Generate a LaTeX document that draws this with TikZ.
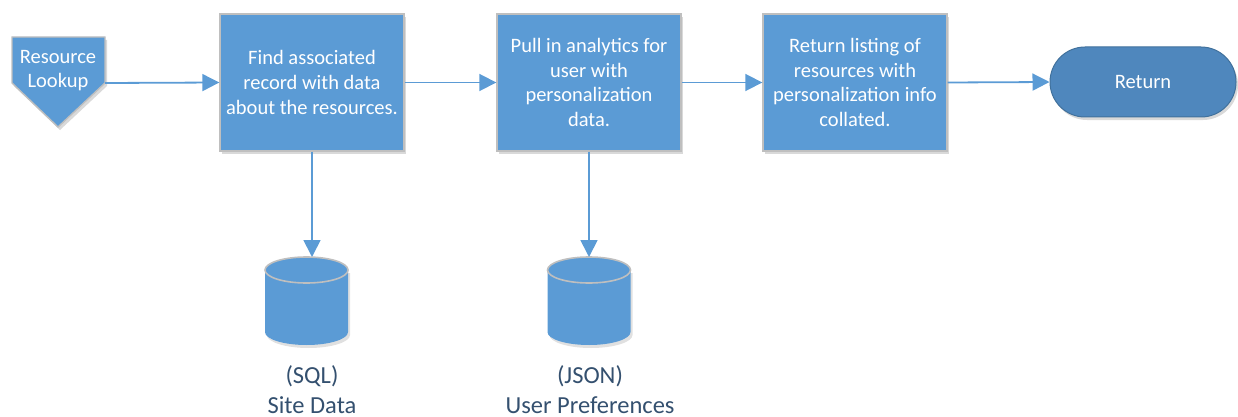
\documentclass[tikz,border=0pt]{standalone}
\usepackage{fontspec}
\setmainfont{Carlito}
\usetikzlibrary{arrows.meta,shadows,calc}
\definecolor{boxblue}{HTML}{5B9BD5}
\definecolor{retblue}{HTML}{4F87BD}
\definecolor{retedge}{HTML}{41719C}
\definecolor{edgegray}{HTML}{BFBFBF}
\definecolor{labelcol}{HTML}{34506F}
\tikzset{
  procbox/.style={draw=edgegray, line width=1.4pt, fill=boxblue, minimum width=184pt, minimum height=137pt,
    inner sep=0pt, align=center, text=white, font=\fontsize{20.5}{24.8}\selectfont,
    drop shadow={shadow xshift=2pt, shadow yshift=-3pt, opacity=0.25, fill=black!60}},
  conn/.style={draw=boxblue, line width=1.8pt, -{Triangle[length=17pt,width=17pt]}},
  lbl/.style={text=labelcol, align=center, inner sep=0pt, font=\fontsize{24.5}{30}\selectfont},
}
\begin{document}
\begin{tikzpicture}[x=1pt,y=-1pt]
\useasboundingbox (0,0) rectangle (1238,417);
% off-page connector
\fill[black!60, opacity=0.25] (14,40) -- (107,40) -- (107,86) -- (60,130) -- (14,86) -- cycle;
\draw[draw=edgegray, line width=1.4pt, fill=boxblue] (12,37) -- (105,37) -- (105,83) -- (58,127) -- (12,83) -- cycle;
\node[text=white, align=center, font=\fontsize{20.5}{24}\selectfont, inner sep=0pt] (lookup) at (58,71) {Resource\\Lookup};
\coordinate (lookupout) at (105,83);
% process boxes
\node[procbox] (b1) at (312,82.5) {Find associated\\record with data\\about the resources.};
\node[procbox] (b2) at (589,82.5) {Pull in analytics for\\user with\\personalization\\data.};
\node[procbox] (b3) at (855,82.5) {Return listing of\\resources with\\personalization info\\collated.};
% terminator
\node[draw=retedge, line width=1pt, fill=retblue, minimum width=186pt, minimum height=70pt,
  rounded corners=35pt, text=white, font=\fontsize{20.5}{24}\selectfont,
  drop shadow={shadow xshift=2pt, shadow yshift=-3pt, opacity=0.25, fill=black!60}] (ret) at (1143,82) {Return};
% cylinders
\foreach \cx/\nm in {306.5/sql, 589/json}{
  \fill[black!60, opacity=0.2] (\cx-41.5+2,270+3) -- (\cx-41.5+2,332+3) arc[start angle=180, end angle=0, x radius=41.5, y radius=13] -- (\cx+41.5+2,270+3) -- cycle;
  \fill[boxblue] (\cx-41.5,270) -- (\cx-41.5,332) arc[start angle=180, end angle=0, x radius=41.5, y radius=13] -- (\cx+41.5,270) -- cycle;
  \draw[edgegray, line width=1.6pt, fill=boxblue] (\cx,270) ellipse[x radius=41.5, y radius=13];
  \coordinate (\nm top) at (\cx,257);
}
\node[lbl] (sqllbl) at (312,390) {(SQL)\\Site Data};
\node[lbl] (jsonlbl) at (590,390) {(JSON)\\User Preferences};
% connectors
\draw[conn] (lookupout) -- (b1.west);
\draw[conn] (b1.east) -- (b2.west);
\draw[conn] (b2.east) -- (b3.west);
\draw[conn] (b3.east) -- (ret.west);
\draw[conn] (b1.south) -- (b1.south |- sqltop);
\draw[conn] (b2.south) -- (b2.south |- jsontop);
\end{tikzpicture}
\end{document}
